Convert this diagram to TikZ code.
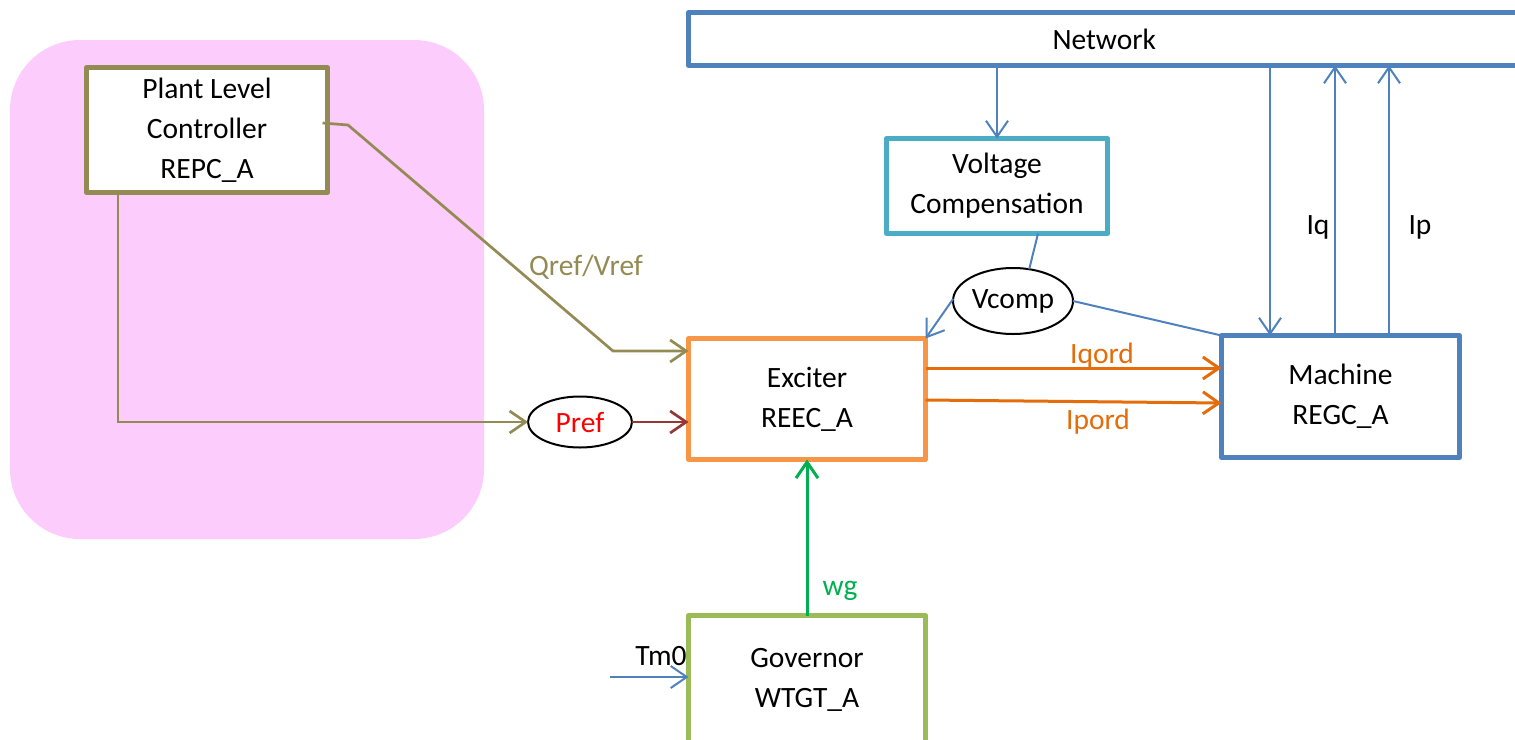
\documentclass[tikz,border=0pt]{standalone}
\usepackage{fontspec}
\setmainfont{Carlito}
\usetikzlibrary{arrows.meta,shapes.geometric,calc}
\definecolor{cOlive}{RGB}{148,138,84}
\definecolor{cOrangeBox}{RGB}{247,150,70}
\definecolor{cOrange}{RGB}{228,108,10}
\definecolor{cBlue}{RGB}{79,129,189}
\definecolor{cTeal}{RGB}{75,172,198}
\definecolor{cGreenBox}{RGB}{155,187,89}
\definecolor{cGreen}{RGB}{0,176,80}
\definecolor{cDarkRed}{RGB}{149,55,53}
\definecolor{cPink}{RGB}{252,204,252}
\begin{document}
\begin{tikzpicture}[x=1pt,y=-1pt,
  font=\fontsize{29.5}{40}\selectfont,
  >={Straight Barb[length=16pt,width=22pt]},
  box/.style={draw, line width=5pt, fill=white, outer sep=0pt, inner sep=0pt, align=center, line join=round},
  oval/.style={ellipse, draw=black, line width=2pt, fill=white, inner sep=0pt, outer sep=0pt},
  lbl/.style={inner sep=0pt, anchor=center},
  oliveline/.style={draw=cOlive, line width=2.7pt},
  blueline/.style={draw=cBlue, line width=2pt},
  orangeline/.style={draw=cOrange, line width=3pt},
]
\useasboundingbox (0,0) rectangle (1515,739);
\clip (0,0) rectangle (1515,739);

% background region
\fill[cPink, rounded corners=70pt] (10,40) rectangle (484,539);

% blocks
\node[box, draw=cOlive, minimum width=241pt, minimum height=125pt] (plant) at (207,130) {Plant Level\\Controller\\REPC\_A};
\node[box, draw=cOrangeBox, minimum width=237pt, minimum height=121pt] (exc) at (807,399) {Exciter\\REEC\_A};
\node[box, draw=cBlue, minimum width=238pt, minimum height=122pt] (mach) at (1340.5,396.5) {Machine\\REGC\_A};
\node[box, draw=cTeal, minimum width=221pt, minimum height=95pt] (vc) at (997,186) {Voltage\\Compensation};
\node[box, draw=cGreenBox, minimum width=237pt, minimum height=129.5pt] (gov) at (807,680.25) {Governor\\WTGT\_A};
\node[box, draw=cBlue, minimum width=831.5pt, minimum height=53pt] (net) at (1104.25,39) {Network};
\node[oval, minimum width=120pt, minimum height=66pt] (vcomp) at (1013,301) {Vcomp};
\node[oval, minimum width=104pt, minimum height=51pt, text=red] (pref) at (580,422) {Pref};

% helper coordinates
\coordinate (qa) at (348,125);
\coordinate (qb) at (613,351);
\coordinate (m1) at ([xshift=48.5pt]mach.north west);
\coordinate (m2) at ([xshift=113.5pt]mach.north west);
\coordinate (m3) at ([xshift=167.5pt]mach.north west);
\coordinate (tm) at (610,677);

% Plant level controller outputs
\draw[oliveline, ->] ([xshift=-5pt,yshift=7pt]plant.east) -- (qa) -- (qb) -- (qb -| exc.west);
\draw[oliveline, ->] ([xshift=-89pt]plant.south) |- (pref.west);
\draw[draw=cDarkRed, line width=2.7pt, ->] (pref.east) -- (pref.east -| exc.west);

% network / voltage compensation
\draw[blueline, ->] (vc.north |- net.south) -- (vc.north);
\draw[blueline] ([xshift=41pt]vc.south) -- (vcomp.63);
\draw[blueline, ->] (vcomp.178) -- (exc.north east);
\draw[blueline] (vcomp.east) -- (mach.north west);

% network <-> machine
\draw[blueline, ->] (m1 |- net.south) -- (m1);
\draw[blueline, ->] (m2) -- (m2 |- net.south);
\draw[blueline, ->] (m3) -- (m3 |- net.south);

% exciter -> machine
\draw[orangeline, ->] ([yshift=31pt]exc.east) -- ([yshift=31pt]exc.east -| mach.west);
\draw[orangeline, ->] ([yshift=-1pt]exc.east) -- ([yshift=-6.5pt]mach.west);

% governor
\draw[draw=cGreen, line width=3pt, ->] (gov.north) -- (exc.south);
\draw[blueline, ->] (tm) -- (tm -| gov.west);

% labels
\node[lbl, text=cOlive] (lq) at (586,267) {Qref/Vref};
\node[lbl, text=cOrange] (liq) at (1102,356) {Iqord};
\node[lbl, text=cOrange] (lip) at (1098,422) {Ipord};
\node[lbl, text=cGreen] (lwg) at (840,591) {wg};
\node[lbl] (lIq) at (1318,227) {Iq};
\node[lbl] (lIp) at (1420,227) {Ip};
\node[lbl] (ltm) at (661,656) {Tm0};
\end{tikzpicture}
\end{document}
